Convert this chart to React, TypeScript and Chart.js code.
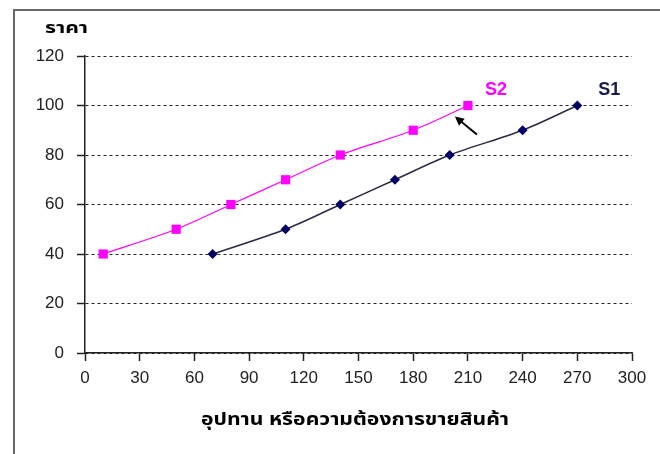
import React, { useEffect, useRef } from "react";
import { Chart, registerables } from "chart.js";

Chart.register(...registerables);

const s2X = [10, 50, 80, 110, 140, 180, 210];
const s2Y = [40, 50, 60, 70, 80, 90, 100];
const s1X = [70, 110, 140, 170, 200, 240, 270];
const s1Y = [40, 50, 60, 70, 80, 90, 100];
const seriesNames = ["S2", "S1"];
const yTitle = "ราคา";
const xTitle = "อุปทาน หรือความต้องการขายสินค้า";

const THAI = "Tahoma, 'Noto Sans Thai', 'Noto Sans Thai UI', Loma, Garuda, 'DejaVu Sans', sans-serif";
const NUM = "'Liberation Sans', Arial, sans-serif";

function stretchedText(ctx: any, text: string, left: number, y: number, width: number) {
  const w = ctx.measureText(text).width;
  const sx = width / w;
  ctx.save();
  ctx.translate(left, y);
  ctx.scale(sx, 1);
  ctx.textAlign = "left";
  ctx.fillText(text, 0, 0);
  ctx.restore();
}

const framePlugin = {
  id: "frame",
  beforeDraw(chart: any) {
    const ctx = chart.ctx;
    ctx.save();
    ctx.fillStyle = "#ffffff";
    ctx.fillRect(0, 0, chart.width, chart.height);
    ctx.strokeStyle = "#6a6a6a";
    ctx.lineWidth = 2;
    ctx.strokeRect(14, 10, chart.width + 20, chart.height + 20);
    ctx.restore();
  },
  afterDraw(chart: any) {
    const ctx = chart.ctx;
    const xs = chart.scales.x;
    const ys = chart.scales.y;
    ctx.save();
    ctx.fillStyle = "#000000";
    ctx.textBaseline = "middle";
    ctx.font = "bold 15px " + THAI;
    stretchedText(ctx, yTitle, 45, 30, 43);
    ctx.font = "bold 17px " + THAI;
    stretchedText(ctx, xTitle, 201, 422, 308);

    const p2x = xs.getPixelForValue(s2X[s2X.length - 1]);
    const p2y = ys.getPixelForValue(s2Y[s2Y.length - 1]);
    const p1x = xs.getPixelForValue(s1X[s1X.length - 1]);
    const p1y = ys.getPixelForValue(s1Y[s1Y.length - 1]);
    ctx.textAlign = "center";
    ctx.font = "bold 18px " + NUM;
    ctx.fillStyle = "#ff00ff";
    ctx.fillText(seriesNames[0], p2x + 28, p2y - 15);
    ctx.fillStyle = "#1a1a4a";
    ctx.fillText(seriesNames[1], p1x + 32, p1y - 15);

    // arrow
    const hx = p2x - 13, hy = p2y + 11;
    const tx = p2x + 9, ty = p2y + 29;
    ctx.strokeStyle = "#000";
    ctx.fillStyle = "#000";
    ctx.lineWidth = 2;
    ctx.beginPath();
    ctx.moveTo(tx, ty);
    ctx.lineTo(hx + 4, hy + 3.3);
    ctx.stroke();
    const ang = Math.atan2(hy - ty, hx - tx);
    const L = 9, W = 4.5;
    ctx.beginPath();
    ctx.moveTo(hx, hy);
    ctx.lineTo(hx - L * Math.cos(ang) + W * Math.sin(ang), hy - L * Math.sin(ang) - W * Math.cos(ang));
    ctx.lineTo(hx - L * Math.cos(ang) - W * Math.sin(ang), hy - L * Math.sin(ang) + W * Math.cos(ang));
    ctx.closePath();
    ctx.fill();
    ctx.restore();
  },
};

export default function App() {
  const ref = useRef<HTMLCanvasElement | null>(null);
  useEffect(() => {
    if (!ref.current) return;
    const chart = new Chart(ref.current, {
      type: "line",
      data: {
        datasets: [
          {
            label: seriesNames[0],
            data: s2X.map((x, i) => ({ x, y: s2Y[i] })),
            borderColor: "#ff00ff",
            backgroundColor: "#ff00ff",
            borderWidth: 1.2,
            pointStyle: "rect",
            pointRadius: 6.5,
            pointBorderWidth: 0,
            tension: 0.3,
          },
          {
            label: seriesNames[1],
            data: s1X.map((x, i) => ({ x, y: s1Y[i] })),
            borderColor: "#2a2a40",
            backgroundColor: "#000066",
            borderWidth: 1.5,
            pointStyle: "rectRot",
            pointRadius: 5,
            pointBorderWidth: 0,
            tension: 0.3,
          },
        ],
      },
      options: {
        animation: false,
        responsive: false,
        layout: { padding: { left: 0, top: 56, right: 28, bottom: 0 } },
        plugins: { legend: { display: false }, tooltip: { enabled: false } },
        scales: {
          x: {
            type: "linear",
            min: 0,
            max: 300,
            ticks: { stepSize: 30, color: "#222", font: { family: NUM, size: 17 }, padding: 7, maxRotation: 0 },
            grid: { drawOnChartArea: false, drawTicks: true, tickLength: 8, tickColor: "#222", tickWidth: 1.5 },
            border: { color: "#222", width: 1.5 },
            afterFit: (s: any) => { s.height = 101; },
          },
          y: {
            type: "linear",
            min: 0,
            max: 120,
            ticks: { stepSize: 20, color: "#222", font: { family: NUM, size: 17 }, padding: 13 },
            grid: { color: "#222", lineWidth: 1, tickLength: 8, tickColor: "#222", tickWidth: 1.5, tickBorderDash: [] },
            border: { color: "#222", width: 1.5, dash: [3, 3] },
            afterFit: (s: any) => { s.width = 85; },
          },
        },
      },
      plugins: [framePlugin],
    });
    return () => chart.destroy();
  }, []);
  return (
    <div style={{ position: "fixed", left: 0, top: 0, width: 660, height: 454, background: "#fff" }}>
      <canvas ref={ref} width={660} height={454} style={{ width: 660, height: 454, display: "block" }} />
    </div>
  );
}
